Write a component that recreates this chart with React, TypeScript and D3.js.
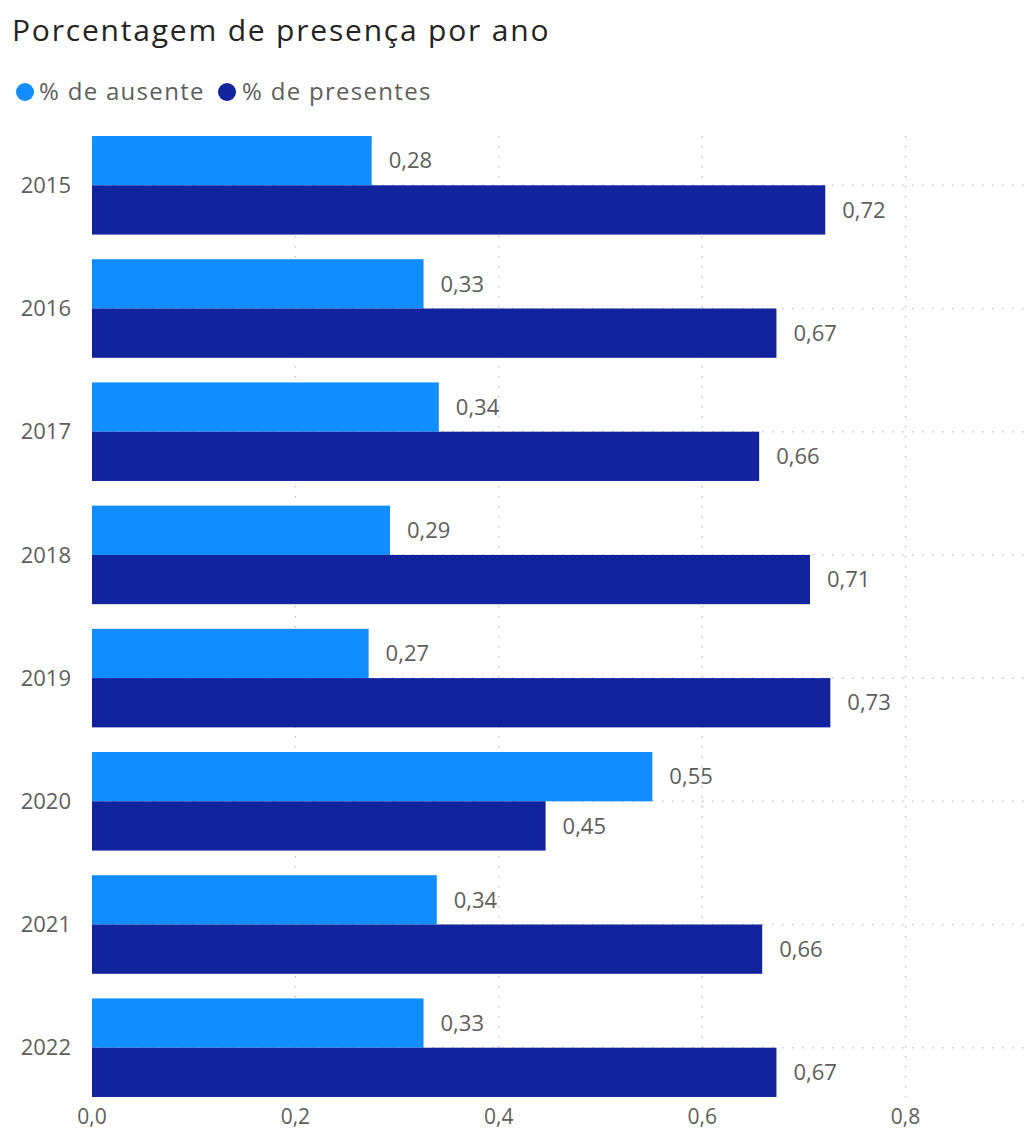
import React from "react";
import * as d3 from "d3";

const years = ["2015", "2016", "2017", "2018", "2019", "2020", "2021", "2022"];
const ausente = [0.275, 0.326, 0.341, 0.293, 0.272, 0.551, 0.339, 0.326];
const presentes = [0.721, 0.673, 0.656, 0.706, 0.726, 0.446, 0.659, 0.673];
const seriesNames = ["% de ausente", "% de presentes"];
const seriesColors = ["#118DFF", "#12239E"];
const xTicks = [0, 0.2, 0.4, 0.6, 0.8];

const W = 1025;
const H = 1131;
const FONT = "'Segoe UI', 'Open Sans', 'Noto Sans', sans-serif";
const fmt = (v: number) => d3.format(".2f")(v).replace(".", ",");
const fmtTick = (v: number) => d3.format(".1f")(v).replace(".", ",");

export default function App() {
  const x = d3.scaleLinear().domain([0, 0.92]).range([92, 92 + 0.92 * 1017]);
  const y = d3
    .scaleBand()
    .domain(years)
    .range([123.7, 1109.3])
    .paddingInner(0.2)
    .paddingOuter(0.1);
  const sub = d3.scaleBand().domain(seriesNames).range([0, y.bandwidth()]);
  const data = [ausente, presentes];
  const gridTop = y(years[0])!;
  const gridBottom = y(years[years.length - 1])! + y.bandwidth();

  return (
    <svg
      width={W}
      height={H}
      style={{ position: "absolute", left: 0, top: 0, background: "#fff" }}
      fontFamily={FONT}
    >
      <text x={12} y={41} fontSize={30} fontWeight={500} fill="#252423" letterSpacing={1.8}>
        Porcentagem de presença por ano
      </text>
      {/* legend */}
      <circle cx={25} cy={92} r={9} fill={seriesColors[0]} />
      <text x={39} y={92} dy="0.35em" fontSize={24} fill="#605E5C" letterSpacing={1.3}>
        {seriesNames[0]}
      </text>
      <circle cx={227} cy={92} r={9} fill={seriesColors[1]} />
      <text x={242} y={92} dy="0.35em" fontSize={24} fill="#605E5C" letterSpacing={1.3}>
        {seriesNames[1]}
      </text>

      {/* vertical gridlines */}
      {xTicks.slice(1).map((t) => (
        <line
          key={"vg" + t}
          x1={x(t)}
          x2={x(t)}
          y1={gridTop}
          y2={gridBottom}
          stroke="#C8C6C4"
          strokeWidth={1.5}
          strokeDasharray="1.5 8.5"
        />
      ))}
      {/* horizontal gridlines */}
      {years.map((yr) => (
        <line
          key={"hg" + yr}
          x1={x(0)}
          x2={W}
          y1={y(yr)! + y.bandwidth() / 2}
          y2={y(yr)! + y.bandwidth() / 2}
          stroke="#C8C6C4"
          strokeWidth={1.5}
          strokeDasharray="1.5 8.5"
        />
      ))}

      {/* bars */}
      {years.map((yr, i) =>
        seriesNames.map((s, k) => {
          const v = data[k][i];
          const by = y(yr)! + sub(s)!;
          return (
            <g key={yr + s}>
              <rect
                x={x(0)}
                y={by}
                width={x(v) - x(0)}
                height={sub.bandwidth()}
                fill={seriesColors[k]}
              />
              <text
                x={x(v) + 17}
                y={by + sub.bandwidth() / 2}
                dy="0.35em"
                fontSize={22}
                fill="#605E5C"
              >
                {fmt(v)}
              </text>
            </g>
          );
        })
      )}

      {/* y labels */}
      {years.map((yr) => (
        <text
          key={"yl" + yr}
          x={71}
          y={y(yr)! + y.bandwidth() / 2}
          dy="0.35em"
          textAnchor="end"
          fontSize={22}
          fill="#605E5C"
        >
          {yr}
        </text>
      ))}

      {/* x tick labels */}
      {xTicks.map((t) => (
        <text
          key={"xt" + t}
          x={x(t)}
          y={1117}
          dy="0.35em"
          textAnchor="middle"
          fontSize={21}
          fill="#605E5C"
        >
          {fmtTick(t)}
        </text>
      ))}
    </svg>
  );
}
